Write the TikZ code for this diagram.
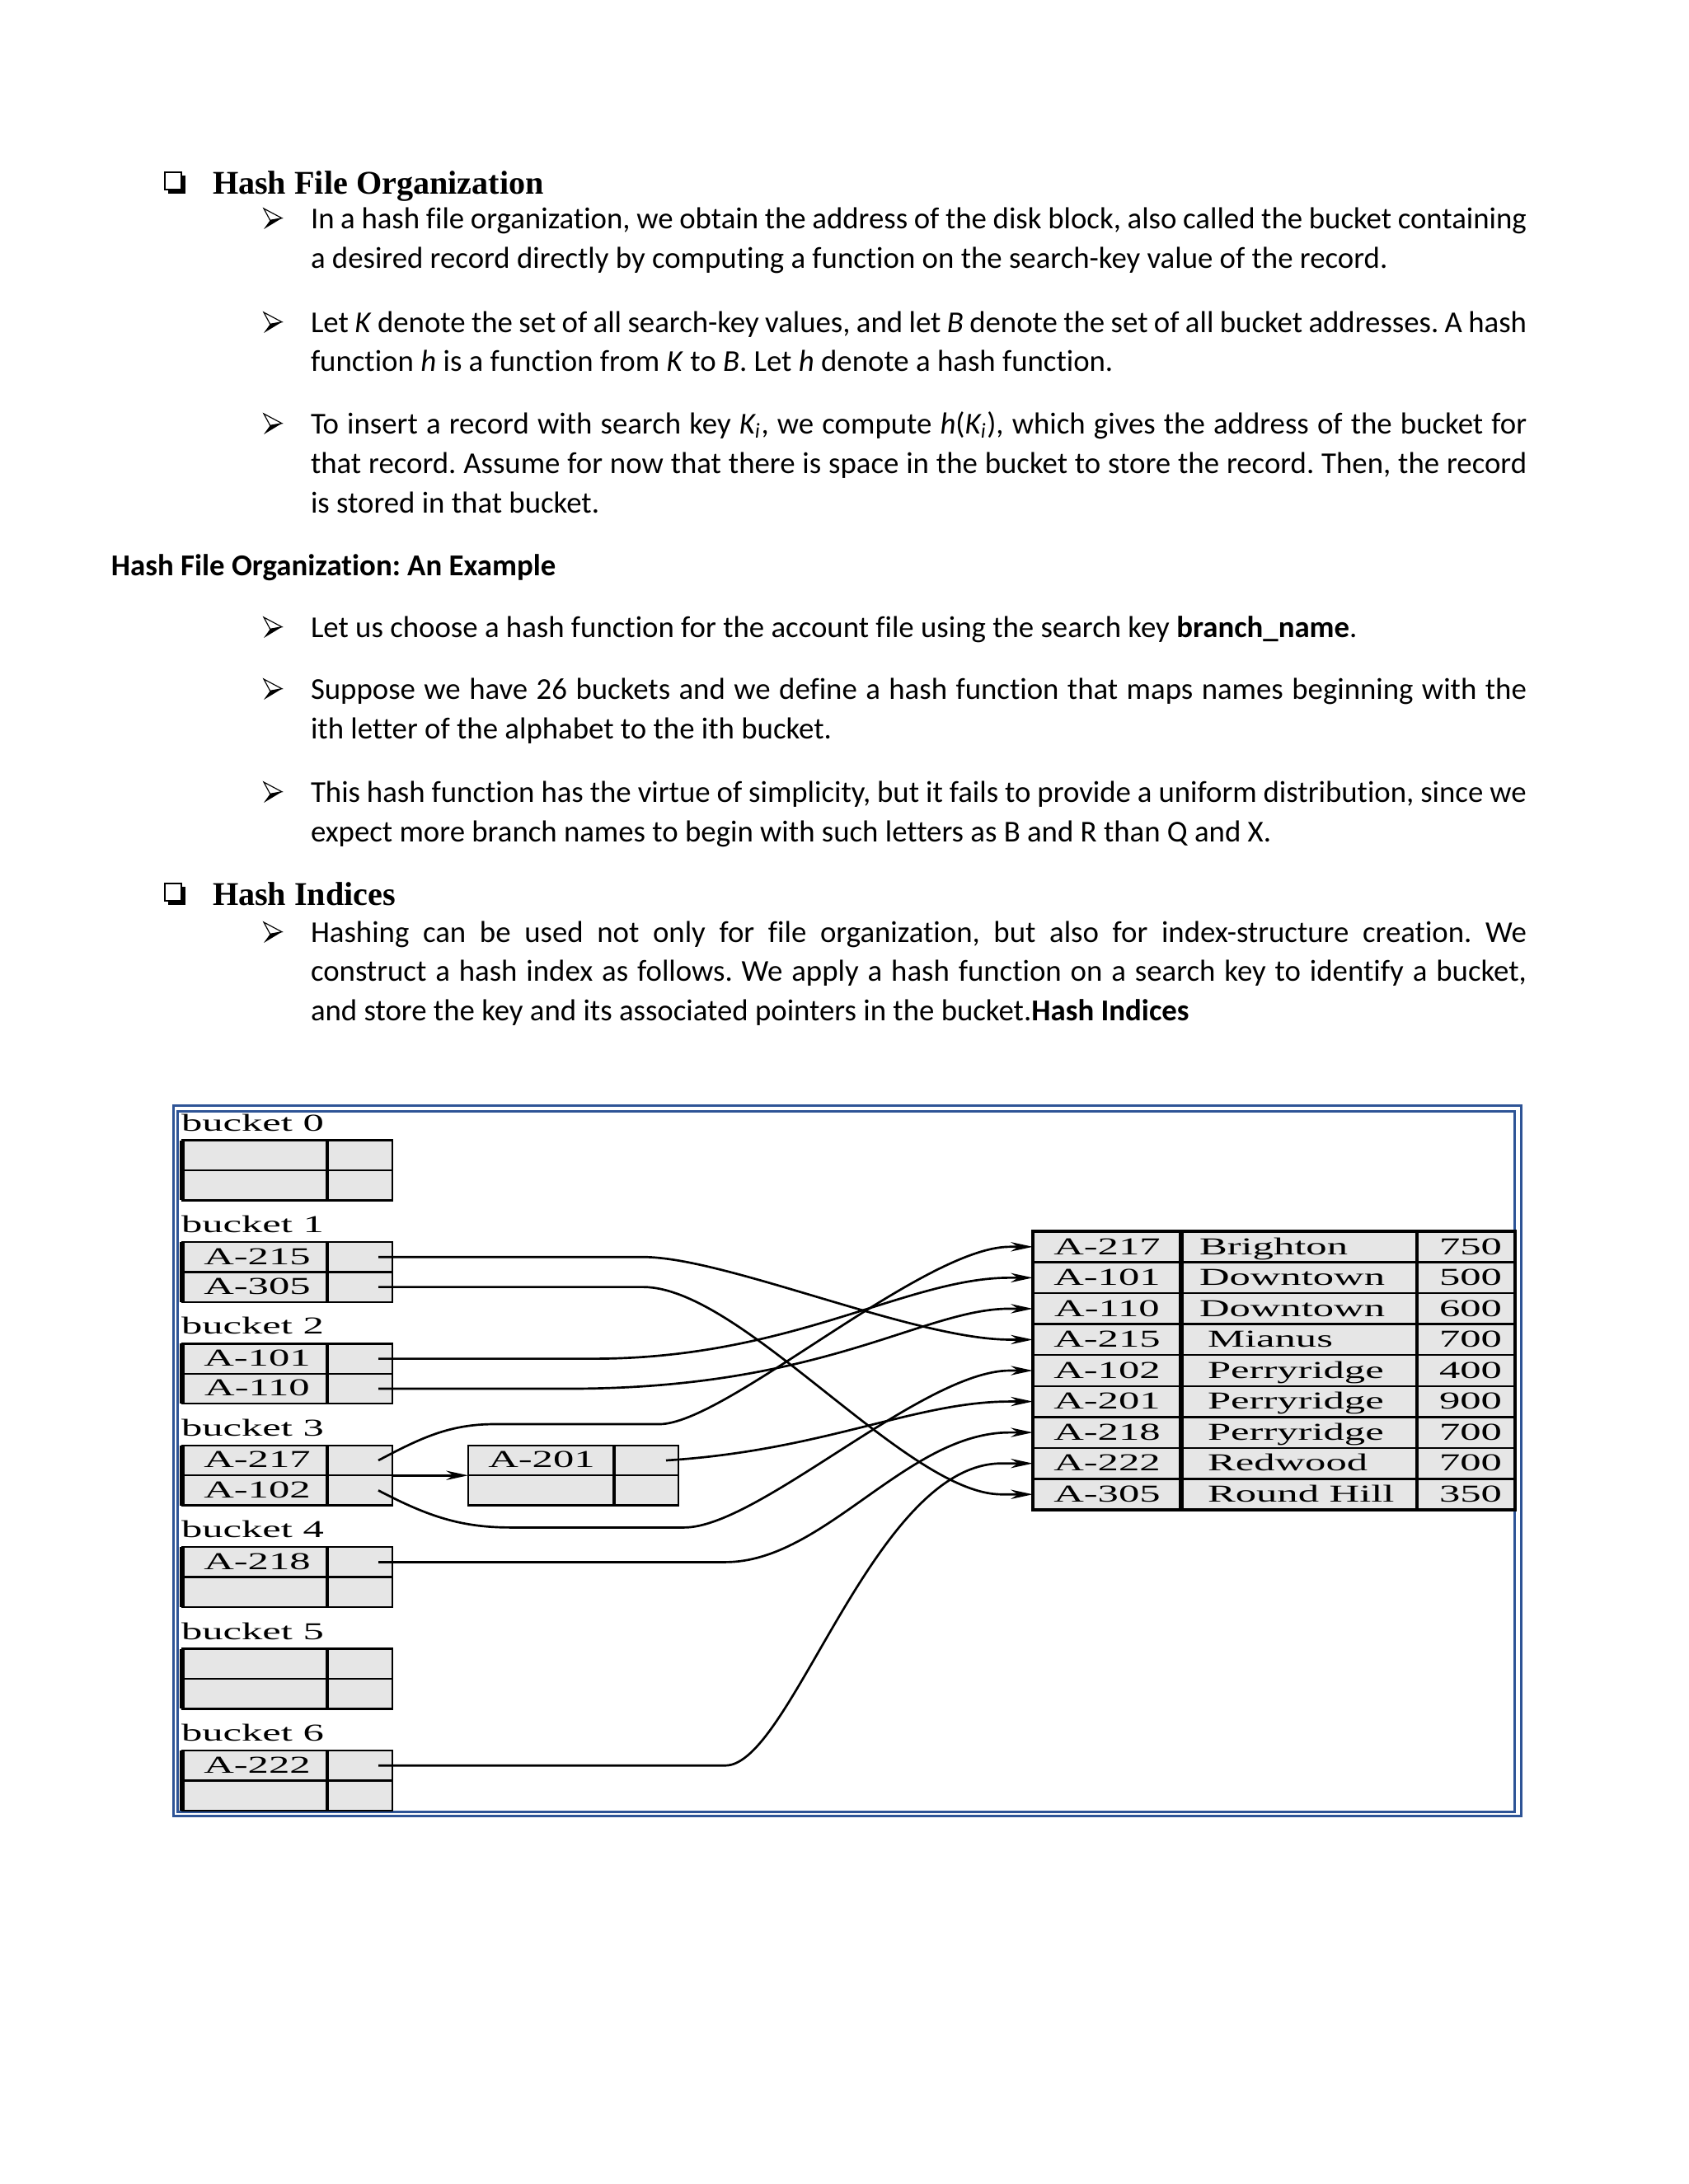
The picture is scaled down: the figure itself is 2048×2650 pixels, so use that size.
\documentclass[tikz,border=0pt]{standalone}
\usepackage{fontspec}
\setmainfont{Carlito}[Ligatures={NoCommon}]
\newfontfamily\tnr{Liberation Serif}
\newfontfamily\figfont[FakeStretch=1.72]{Liberation Serif}
\usetikzlibrary{arrows.meta,calc}
\definecolor{frameblue}{RGB}{46,84,150}
\definecolor{cellgray}{RGB}{230,230,230}
\frenchspacing
\begin{document}
\begin{tikzpicture}[x=0.298828bp, y=-0.298828bp,
  txt/.style={inner sep=0, outer sep=0, font=\fontsize{11bp}{13bp}\selectfont, anchor=base west},
  head/.style={inner sep=0, outer sep=0, font=\tnr\bfseries\fontsize{12bp}{14bp}\selectfont, anchor=base west},
  fig/.style={inner sep=0, outer sep=0, font=\figfont\fontsize{8.8bp}{10bp}\selectfont},
  gridl/.style={line width=0.75bp},
  conn/.style={line width=0.8bp, -{Stealth[length=8bp,width=3.4bp]}},
  bucketbox/.style={draw, line width=0.75bp, fill=cellgray, inner sep=0, outer sep=0, anchor=north west,
    minimum width=255*0.298828bp, minimum height=72.8*0.298828bp},
  tablebox/.style={draw, line width=1bp, fill=cellgray, inner sep=0, outer sep=0, anchor=north west,
    minimum width=585*0.298828bp, minimum height=338*0.298828bp},
  chk/.pic={\fill (4,-22) rectangle (25,0);
            \filldraw[fill=white, draw=black, line width=0.6bp] (0,-26) rectangle (20,-5);},
  barrow/.pic={\filldraw[fill=white, draw=black, line width=0.35bp, line join=miter] (0,-24) -- (22,-12.3) -- (7.7,-9.7) -- cycle;
               \fill (7.7,-9.7) -- (22,-12.3) -- (0,1) -- cycle;}
]
\useasboundingbox (0,0) rectangle (2048,2650);
\fill[white] (0,0) rectangle (2048,2650);

% ---------- text ----------
\begin{scope}[shift={(0,3)}]
\pic at (200,232) {chk};
\node[head] (h1) at (258,232) {Hash File Organization};

\pic at (320,274) {barrow};
\node[txt] (l1) at (377,274) {\makebox[440.8bp][s]{In a hash file organization, we obtain the address of the disk block, also called the bucket containing}};
\node[txt] (l2) at (377,322) {a desired record directly by computing a function on the search-key value of the record.};

\pic at (320,400) {barrow};
\node[txt] (l3) at (377,400) {\makebox[440.8bp][s]{Let \textit{K} denote the set of all search-key values, and let \textit{B} denote the set of all bucket addresses. A hash}};
\node[txt] (l4) at (377,447) {function \textit{h} is a function from \textit{K} to \textit{B}. Let \textit{h} denote a hash function.};

\pic at (320,523) {barrow};
\node[txt] (l5) at (377,523) {\makebox[440.8bp][s]{To insert a record with search key \textit{K\textsubscript{i}}, we compute \textit{h}(\textit{K\textsubscript{i}}), which gives the address of the bucket for}};
\node[txt] (l6) at (377,571) {\makebox[440.8bp][s]{that record. Assume for now that there is space in the bucket to store the record. Then, the record}};
\node[txt] (l7) at (377,619) {is stored in that bucket.};

\node[txt, font=\bfseries\fontsize{11bp}{13bp}\selectfont] (sub) at (135,695) {Hash File Organization: An Example};

\pic at (320,770) {barrow};
\node[txt] (l8) at (377,770) {Let us choose a hash function for the account file using the search key \textbf{branch\_name}.};

\pic at (320,845) {barrow};
\node[txt] (l9) at (377,845) {\makebox[440.8bp][s]{Suppose we have 26 buckets and we define a hash function that maps names beginning with the}};
\node[txt] (l10) at (377,893) {ith letter of the alphabet to the ith bucket.};

\pic at (320,970) {barrow};
\node[txt] (l11) at (377,970) {\makebox[440.8bp][s]{This hash function has the virtue of simplicity, but it fails to provide a uniform distribution, since we}};
\node[txt] (l12) at (377,1018) {expect more branch names to begin with such letters as B and R than Q and X.};

\pic at (200,1095) {chk};
\node[head] (h2) at (258,1095) {Hash Indices};

\pic at (320,1140) {barrow};
\node[txt] (l13) at (377,1140) {\makebox[440.8bp][s]{Hashing can be used not only for file organization, but also for index-structure creation. We}};
\node[txt] (l14) at (377,1187) {\makebox[440.8bp][s]{construct a hash index as follows. We apply a hash function on a search key to identify a bucket,}};
\node[txt] (l15) at (377,1235) {and store the key and its associated pointers in the bucket.\textbf{Hash Indices}};
\end{scope}

% ---------- figure frame ----------
\draw[frameblue, line width=0.9bp] (210.5,1341.5) rectangle (1845,2203);
\draw[frameblue, line width=0.9bp] (215.5,1348) rectangle (1837.5,2198);

% ---------- buckets ----------
\foreach \k/\ta/\tb in {0/{}/{},1/A-215/A-305,2/A-101/A-110,3/A-217/A-102,4/A-218/{},5/{}/{},6/A-222/{}}{
  \pgfmathsetmacro{\T}{1383.6+123.4*\k}
  \node[fig, anchor=base west] (lab\k) at (220,\T-11.5) {bucket \k};
  \node[bucketbox] (bk\k) at (221,\T) {};
  \draw[gridl] (221,\T+36.4) -- (476,\T+36.4);
  \draw[line width=1.2bp] (397,\T) -- (397,\T+72.8);
  \draw[line width=1.6bp] (221,\T) -- (221,\T+72.8);
  \node[fig, anchor=base] (ka\k) at (312,\T+27) {\ta};
  \node[fig, anchor=base] (kb\k) at (312,\T+63.4) {\tb};
  \coordinate (pa\k) at (459,\T+18.2);
  \coordinate (pb\k) at (459,\T+54.6);
}

% ---------- overflow bucket ----------
\node[bucketbox] (ovf) at (568,1753.8) {};
\draw[gridl] (568,1790.2) -- (823,1790.2);
\draw[line width=1.2bp] (745,1753.8) -- (745,1826.6);
\node[fig, anchor=base] (ovfa) at (657,1780.8) {A-201};
\coordinate (povf) at (808,1772);
\draw[conn] (bk3.east) -- (ovf.west);

% ---------- account table ----------
\node[tablebox] (tbl) at (1253,1494) {};
\foreach \i in {1,...,8}{\draw[gridl] (1253,1494+37.55*\i) -- (1838,1494+37.55*\i);}
\draw[line width=1.6bp] (1433,1494) -- (1433,1832);
\draw[line width=1bp] (1719,1494) -- (1719,1832);
\foreach \i/\n/\acc/\br/\bal/\xb in {0/217/A-217/Brighton/750/1455, 1/101/A-101/Downtown/500/1455,
  2/110/A-110/Downtown/600/1455, 3/215/A-215/Mianus/700/1465, 4/102/A-102/Perryridge/400/1465,
  5/201/A-201/Perryridge/900/1465, 6/218/A-218/Perryridge/700/1465, 7/222/A-222/Redwood/700/1465,
  8/305/A-305/Round Hill/350/1465}{
  \pgfmathsetmacro{\R}{1494+37.55*\i}
  \node[fig, anchor=base] (tacc\n) at (1343,\R+28) {\acc};
  \node[fig, anchor=base west] (tbr\n) at (\xb,\R+28) {\br};
  \node[fig, anchor=base] (tbal\n) at (1784,\R+28) {\bal};
  \coordinate (row\n) at (1253,\R+18.8);
}

% ---------- pointers ----------
\draw[conn] (pa1) -- ++(321,0) .. controls +(100,0) and ($(row215)+(-143,0)$) .. ($(row215)+(-28,0)$) -- (row215);
\draw[conn] (pb1) -- ++(321,0) .. controls +(120,0) and ($(row305)+(-153,0)$) .. ($(row305)+(-38,0)$) -- (row305);
\draw[conn] (pa2) -- ++(261,0) .. controls +(240,0) and ($(row101)+(-153,0)$) .. ($(row101)+(-28,0)$) -- (row101);
\draw[conn] (pb2) -- ++(231,0) .. controls +(310,0) and ($(row110)+(-133,0)$) .. ($(row110)+(-28,0)$) -- (row110);
\draw[conn] (pa3) .. controls +(51,-27) and +(-55,0) .. ++(141,-44) -- ++(200,0)
   .. controls +(80,0) and ($(row217)+(-133,0)$) .. ($(row217)+(-28,0)$) -- (row217);
\draw[conn] (pb3) .. controls +(61,32) and +(-60,0) .. ++(161,45) -- ++(210,0)
   .. controls +(90,0) and ($(row102)+(-133,0)$) .. ($(row102)+(-28,0)$) -- (row102);
\draw[conn] (povf) .. controls +(192,-12) and ($(row201)+(-143,0)$) .. ($(row201)+(-28,0)$) -- (row201);
\draw[conn] (pa4) -- ++(421,0) .. controls +(120,0) and ($(row218)+(-153,0)$) .. ($(row218)+(-28,0)$) -- (row218);
\draw[conn] (pa6) -- ++(421,0) .. controls +(80,0) and ($(row222)+(-193,0)$) .. ($(row222)+(-38,0)$) -- (row222);
\end{tikzpicture}
\end{document}
